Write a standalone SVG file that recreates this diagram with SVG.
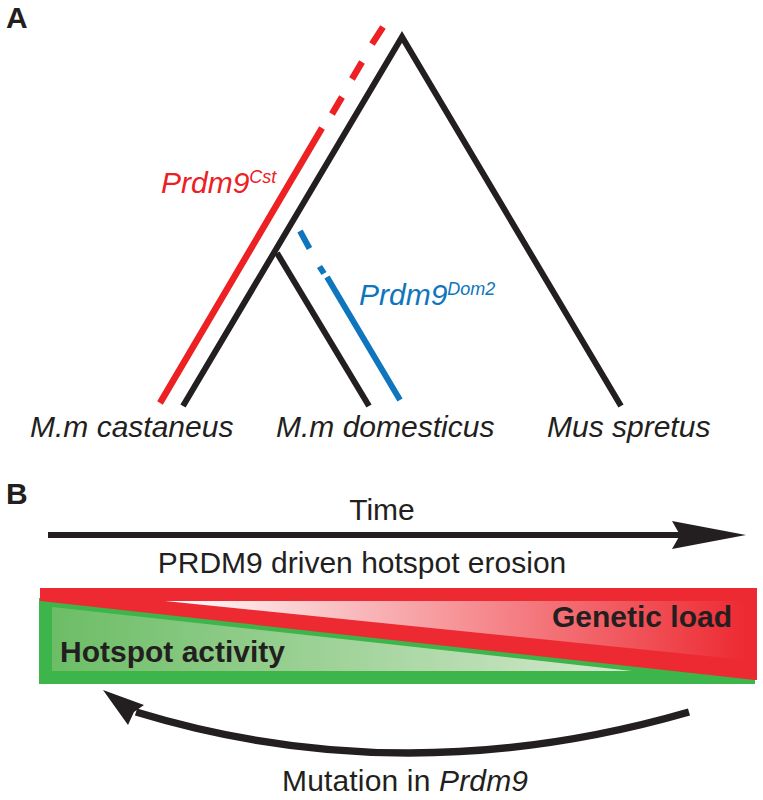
<svg xmlns="http://www.w3.org/2000/svg" width="763" height="800" viewBox="0 0 763 800">
<style>
text{font-family:"Liberation Sans",Arial,sans-serif;fill:#231f20}
.i{font-style:italic}
.t{font-size:30px}
.h{font-size:30px;font-weight:bold}
.l{font-weight:bold;font-size:30px}
.tree{fill:none;stroke:#231f20;stroke-width:6}
.red{fill:none;stroke:#ed2024;stroke-width:6.5}
.blue{fill:none;stroke:#0f75bc;stroke-width:6}
</style>
<defs>
<linearGradient id="gr" x1="165" x2="746" y1="0" y2="0" gradientUnits="userSpaceOnUse"><stop offset="0" stop-color="#fff"/><stop offset="1" stop-color="#ed2a32"/></linearGradient>
<linearGradient id="gg" x1="52" x2="632" y1="0" y2="0" gradientUnits="userSpaceOnUse"><stop offset="0" stop-color="#6cbd66"/><stop offset="1" stop-color="#d5e9cf"/></linearGradient>
</defs>
<rect width="763" height="800" fill="#fff"/>
<text class="l" x="6" y="28">A</text>
<text class="l" x="6" y="504">B</text>
<g id="connectors">
<path class="tree" d="M183 406L402 37L621 406"/>
<path class="tree" d="M277 253L369 406"/>
<path class="red" d="M160 403L322 128M332 114L342 97M352 79L362 62M372 44L383 27"/>
<path class="blue" d="M300 231L309.500 248.500M319.500 266.500L324 273.500M327 277L400 400"/>
<path d="M48 535H684" fill="none" stroke="#231f20" stroke-width="6"/>
<path d="M672 521L746 535L672 549L680 535Z" fill="#231f20"/>
<path d="M689 712Q405 794 136 712" fill="none" stroke="#231f20" stroke-width="7.500"/>
<path d="M103 690L144 705L134 712L128 725Z" fill="#231f20"/>
</g>
<g id="label-cst"><text class="i" x="161" y="193" font-size="30" style="fill:#ed2024">Prdm9<tspan font-size="18" dy="-10">Cst</tspan></text></g>
<g id="label-dom2"><text class="i" x="359" y="305" font-size="30" style="fill:#0f75bc">Prdm9<tspan font-size="18" dy="-10">Dom2</tspan></text></g>
<g id="taxon-castaneus"><text class="i t" x="30" y="437">M.m castaneus</text></g>
<g id="taxon-domesticus"><text class="i t" x="276" y="437">M.m domesticus</text></g>
<g id="taxon-spretus"><text class="i t" x="547" y="437">Mus spretus</text></g>
<g id="time"><text class="t" x="382" y="520" text-anchor="middle">Time</text></g>
<g id="erosion"><text class="t" x="362" y="573" text-anchor="middle">PRDM9 driven hotspot erosion</text></g>
<g id="bar">
<path d="M39 598L755 678V684H39Z" fill="#3db54a"/>
<path d="M40 588H757V680L755 680L40 601Z" fill="#ed2a32"/>
<path d="M52 607L632 671H52Z" fill="url(#gg)"/>
<path d="M165 601H746V660Z" fill="url(#gr)"/>
<text class="h" x="60" y="662">Hotspot activity</text>
<text class="h" x="552" y="627">Genetic load</text>
</g>
<g id="mutation"><text class="t" x="282" y="791" textLength="246" lengthAdjust="spacing">Mutation in <tspan class="i">Prdm9</tspan></text></g>
</svg>
